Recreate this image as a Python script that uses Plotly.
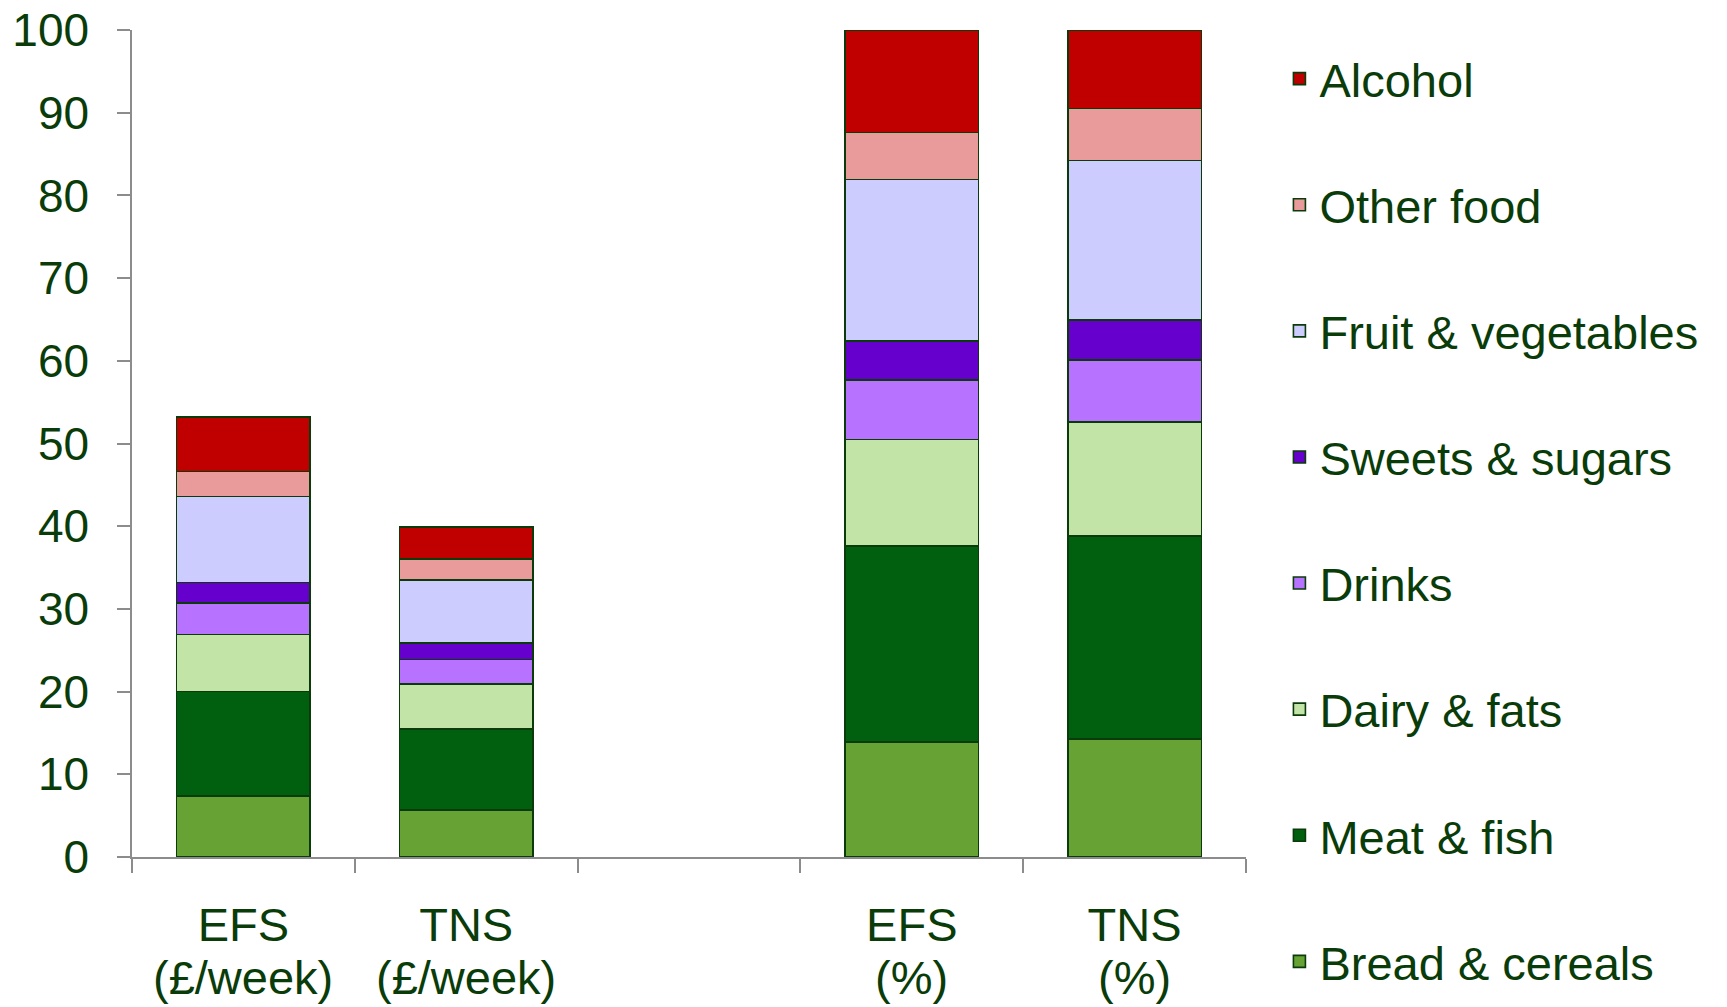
import plotly.graph_objects as go

# Bar categories (the blank slot separates the £/week bars from the % bars)
categories = ["EFS (£/week)", "TNS (£/week)", " ", "EFS (%)", "TNS (%)"]
bar_categories = ["EFS (£/week)", "TNS (£/week)", "EFS (%)", "TNS (%)"]
tick_source = ["EFS", "TNS", "", "EFS", "TNS"]
tick_unit = ["(£/week)", "(£/week)", "", "(%)", "(%)"]

# Food groups, bottom of the stack first
groups = ["Bread & cereals", "Meat & fish", "Dairy & fats", "Drinks",
          "Sweets & sugars", "Fruit & vegetables", "Other food", "Alcohol"]

bread_cereals = [7.4, 5.7, 13.9, 14.3]
meat_fish = [12.6, 9.75, 23.7, 24.5]
dairy_fats = [6.9, 5.45, 12.9, 13.8]
drinks = [3.8, 3.0, 7.2, 7.5]
sweets_sugars = [2.5, 1.95, 4.7, 4.8]
fruit_vegetables = [10.4, 7.65, 19.5, 19.3]
other_food = [3.0, 2.5, 5.7, 6.3]
alcohol = [6.6, 3.9, 12.4, 9.5]

series = [bread_cereals, meat_fish, dairy_fats, drinks,
          sweets_sugars, fruit_vegetables, other_food, alcohol]

colors = ["#66A334", "#006010", "#C2E4A6", "#B773FF",
          "#6600CC", "#CCCCFF", "#E99A9A", "#C00000"]

y_ticks = [0, 10, 20, 30, 40, 50, 60, 70, 80, 90, 100]

TEXT = "#0A3C0A"
OUTLINE = "#0B3B0B"
FONT = "Liberation Sans, Arial, sans-serif"
FS = 47

fig = go.Figure()
n = len(groups)
for i, (name, vals, col) in enumerate(zip(groups, series, colors)):
    fig.add_trace(go.Bar(
        x=bar_categories, y=vals, name=name, legendgroup=name,
        legendrank=n - i,  # top of the stack listed first
        marker=dict(color=col, line=dict(color=OUTLINE, width=1.6)),
    ))

# Second line of each category label (units), set tighter than a <br> break
for cat, unit in zip(categories, tick_unit):
    if unit:
        fig.add_annotation(
            x=cat, xref="x", y=-0.146, yref="paper",
            text=unit, showarrow=False, xanchor="center", yanchor="middle",
            font=dict(family=FONT, size=FS, color=TEXT),
        )

fig.update_layout(
    width=1727, height=1007,
    barmode="stack", bargap=0.4,
    plot_bgcolor="white", paper_bgcolor="white",
    margin=dict(l=132, r=481, t=30, b=150, autoexpand=False),
    font=dict(family=FONT, size=FS, color=TEXT),
    legend=dict(
        x=1.03, xanchor="left", y=0.986, yanchor="top",
        traceorder="grouped", tracegroupgap=62, maxheight=1000,
        font=dict(family=FONT, size=FS, color=TEXT),
        bgcolor="rgba(0,0,0,0)",
    ),
    xaxis=dict(
        type="category", categoryorder="array", categoryarray=categories,
        tickmode="array", tickvals=categories, ticktext=tick_source,
        range=[-0.5, 4.5], tickson="boundaries", automargin=False,
        showline=True, linecolor="#8C8C8C", linewidth=1.5,
        ticks="outside", ticklen=14, tickcolor="#8C8C8C", tickwidth=1.5,
        showgrid=False, ticklabelstandoff=26,
        tickfont=dict(family=FONT, size=FS, color=TEXT),
    ),
    yaxis=dict(
        range=[0, 100], tickvals=y_ticks, automargin=False,
        showline=True, linecolor="#8C8C8C", linewidth=1.5,
        ticks="outside", ticklen=13, tickcolor="#8C8C8C", tickwidth=1.5,
        showgrid=False, zeroline=False, ticklabelstandoff=19,
        tickfont=dict(family=FONT, size=46, color=TEXT),
    ),
)

fig.write_html("out.html")
